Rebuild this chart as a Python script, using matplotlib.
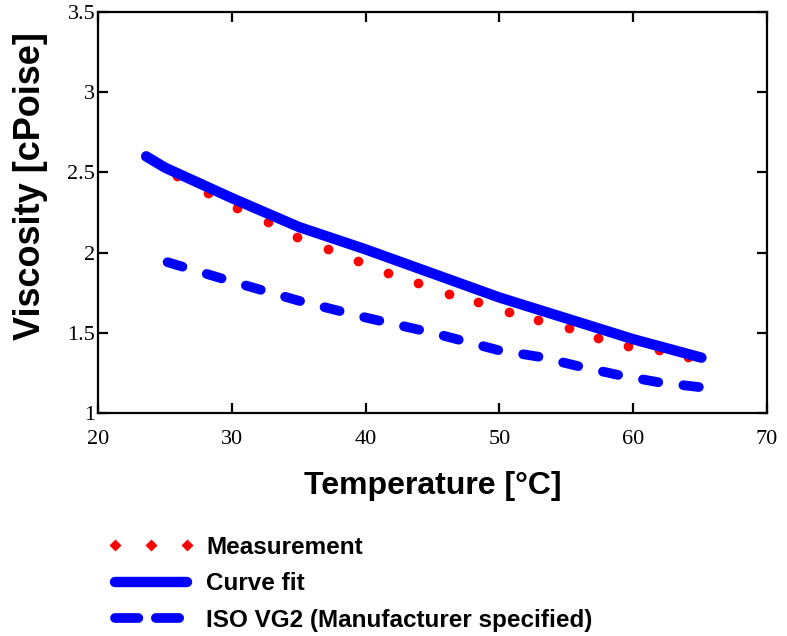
import matplotlib
matplotlib.use("Agg")
import matplotlib.pyplot as plt
from matplotlib.lines import Line2D

# measured viscosity of the oil
temp_meas = [23.6, 25.9, 28.2, 30.4, 32.7, 34.9, 37.2, 39.4, 41.7, 43.9,
             46.2, 48.4, 50.7, 52.9, 55.2, 57.4, 59.6, 61.9, 64.1]
visc_meas = [2.60, 2.48, 2.37, 2.28, 2.19, 2.10, 2.02, 1.95, 1.87, 1.81,
             1.74, 1.69, 1.63, 1.58, 1.53, 1.47, 1.42, 1.39, 1.35]

# fitted curve
temp_fit = [23.6, 25, 30, 35, 40, 45, 50, 55, 60, 65.1]
visc_fit = [2.60, 2.53, 2.34, 2.16, 2.02, 1.87, 1.72, 1.59, 1.46, 1.345]

# ISO VG2 from the manufacturer
temp_iso = [25.2, 30, 35, 40, 45, 50, 53, 56, 59, 62, 65.1]
visc_iso = [1.94, 1.82, 1.70, 1.595, 1.50, 1.39, 1.35, 1.29, 1.235, 1.19, 1.16]

xticks = [20, 30, 40, 50, 60, 70]
yticks = [1, 1.5, 2, 2.5, 3, 3.5]

fig = plt.figure(figsize=(7.87, 6.36), dpi=100)
ax = fig.add_axes([98/787, 1 - 413/636, (767 - 98)/787, (413 - 12)/636])

ax.plot(temp_meas, visc_meas, 'o', color='red', ms=7, mec='none', zorder=2)
ax.plot(temp_fit, visc_fit, '-', color='#0000ff', lw=7.5, solid_capstyle='round', zorder=3)
ax.plot(temp_iso, visc_iso, color='#0000ff', lw=7, linestyle=(0, (1.6, 2.6)),
        dash_capstyle='round', zorder=3)

ax.set_xlim(20, 70)
ax.set_ylim(1, 3.5)
ax.set_xticks(xticks)
ax.set_yticks(yticks)
ax.set_xticklabels([str(t) for t in xticks])
ax.set_yticklabels(['1', '1.5', '2', '2.5', '3', '3.5'])

for s in ax.spines.values():
    s.set_linewidth(1.6)
ax.tick_params(direction='in', length=7, width=1.6, top=True, right=True,
               labelsize=16)
ax.tick_params(axis='x', pad=12)
ax.tick_params(axis='y', pad=2)
for lab in ax.get_xticklabels() + ax.get_yticklabels():
    lab.set_family('Liberation Serif')

ax.set_xlabel('Temperature [°C]', fontsize=23, fontweight='bold',
              family='Liberation Sans', labelpad=16)
ax.set_ylabel('Viscosity [cPoise]', fontsize=26, fontweight='bold',
              family='Liberation Sans')
ax.yaxis.set_label_coords(-0.074, 0.565)

handles = [
    Line2D([], [], linestyle='none', marker='D', color='red', ms=6, mec='none'),
    Line2D([], [], color='#0000ff', lw=7.5, solid_capstyle='round'),
    Line2D([], [], color='#0000ff', lw=7, linestyle=(0, (2.4, 1.8)),
           dash_capstyle='round'),
]
labels = ['Measurement', 'Curve fit', 'ISO VG2 (Manufacturer specified)']
fig.legend(handles, labels, loc='upper left',
           bbox_to_anchor=(108/787, 1 - 536/636), frameon=False,
           numpoints=3, handlelength=3.55, handletextpad=0.5,
           labelspacing=0.55, borderpad=0, borderaxespad=0,
           prop={'family': 'Liberation Sans', 'weight': 'bold', 'size': 17.5})

fig.savefig('out.png', dpi=100)
